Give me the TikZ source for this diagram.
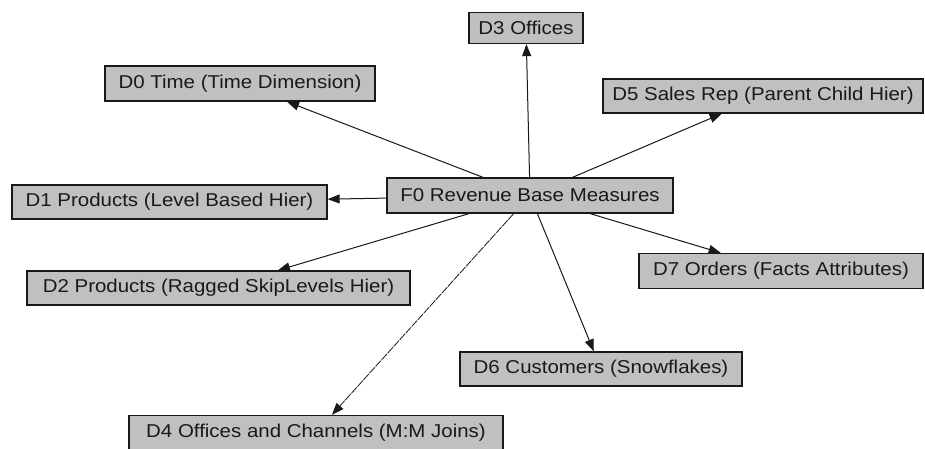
\documentclass[tikz,border=0pt]{standalone}
\usepackage{fontspec}
\setmainfont{Liberation Sans}[FakeStretch=1.1]
\usetikzlibrary{arrows.meta}
\definecolor{boxgray}{RGB}{192,192,192}
\definecolor{ink}{RGB}{25,25,25}
\tikzset{
  dimbox/.style={draw=ink, fill=boxgray, line width=1.3pt, rectangle, inner sep=0pt,
    text=ink, font=\fontsize{18.6}{20}\selectfont},
  link/.style={draw=ink, line width=1pt, -{Triangle[length=12pt,width=9pt]}},
  mmlink/.style={link, line width=0.8pt, dash pattern=on 8pt off 1pt}
}
\begin{document}
\begin{tikzpicture}[x=1pt,y=-1pt]
\useasboundingbox (0,0) rectangle (925,448);
\node[dimbox, minimum width=286pt, minimum height=35pt] (f0) at (530,195.5) {F0 Revenue Base Measures};
\node[dimbox, minimum width=114pt, minimum height=31pt] (d3) at (526,28) {D3 Offices};
\node[dimbox, minimum width=270pt, minimum height=35pt] (d0) at (240,83.5) {D0 Time (Time Dimension)};
\node[dimbox, minimum width=320pt, minimum height=34pt] (d5) at (763,96) {D5 Sales Rep (Parent Child Hier)};
\node[dimbox, minimum width=315pt, minimum height=34pt] (d1) at (169.5,202) {D1 Products (Level Based Hier)};
\node[dimbox, minimum width=383pt, minimum height=34pt] (d2) at (218.5,288) {D2 Products (Ragged SkipLevels Hier)};
\node[dimbox, minimum width=284pt, minimum height=35pt] (d7) at (781,271) {D7 Orders (Facts Attributes)};
\node[dimbox, minimum width=282pt, minimum height=34pt] (d6) at (601,369) {D6 Customers (Snowflakes)};
\node[dimbox, minimum width=374pt, minimum height=34pt] (d4) at (316,432.5) {D4 Offices and Channels (M:M Joins)};
\draw[link] (f0) -- (d3);
\draw[link] (f0) -- (d0);
\draw[link] (f0) -- (d5);
\draw[link] (f0) -- (d1);
\draw[link] (f0) -- (d2);
\draw[link] (f0) -- (d7);
\draw[link] (f0) -- (d6);
\draw[mmlink] (f0) -- (d4);
\end{tikzpicture}
\end{document}
